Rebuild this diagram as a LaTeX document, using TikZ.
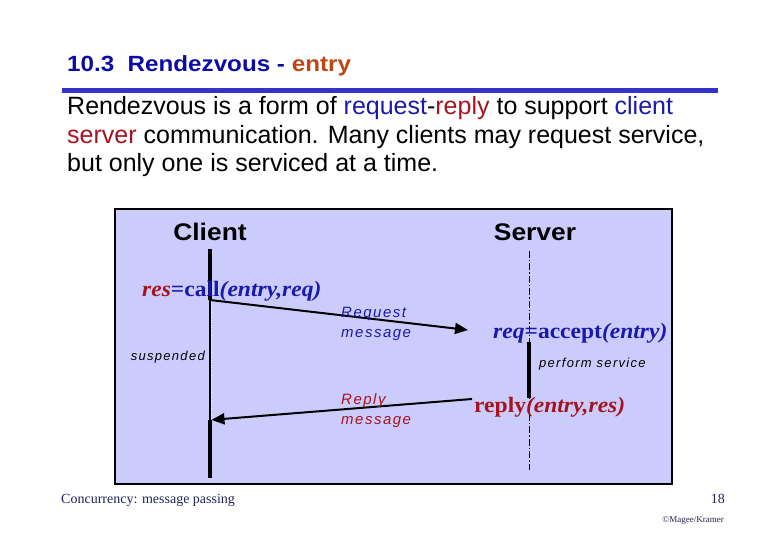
\documentclass[tikz,border=0pt]{standalone}
\usepackage{fontspec}
\setmainfont{Liberation Serif}
\setsansfont{Liberation Sans}
\newfontfamily\headfont[FakeStretch=1.1]{Liberation Sans}
\newfontfamily\callfont[FakeStretch=1.07]{Liberation Serif}
\newfontfamily\notefont[LetterSpace=10]{Liberation Sans}
\usetikzlibrary{arrows.meta,positioning}
\definecolor{titleblue}{RGB}{12,12,165}
\definecolor{entryorange}{RGB}{190,70,20}
\definecolor{textblue}{RGB}{25,25,170}
\definecolor{textred}{RGB}{165,20,30}
\definecolor{boxfill}{RGB}{204,204,252}
\definecolor{ruleblue}{RGB}{51,51,204}
\definecolor{footnavy}{RGB}{35,35,85}
\newcommand*\fsize[1]{\fontsize{#1}{#1}\selectfont}
\newcommand*\activeseg[2]{%
    % #1/#2: start/end of the thick part of a lifeline
    \draw[line width=4.5pt] (#1) -- (#2);
}

\begin{document}
\begin{tikzpicture}[x=1pt,y=-1pt,line cap=butt,
    every node/.style={inner sep=0pt},
    bodyline/.style={anchor=base west,font=\sffamily\fsize{25}},
    callline/.style={anchor=base west,font=\callfont\bfseries\fsize{22}},
    note/.style={font=\notefont\itshape\fsize{13}},
    msglabel/.style={anchor=north west,align=left,font=\notefont\itshape\fontsize{15}{20}\selectfont},
    msg/.style={line width=2pt,-{Triangle[length=13pt,width=11pt]}}]
    \useasboundingbox (0,0) rectangle (780,540);
    % heading
    \node[anchor=base west,font=\headfont\bfseries\fsize{22},text=titleblue] (title) at (67,72) {10.3\ \ Rendezvous - \textcolor{entryorange}{entry}};
    \coordinate (rule-l) at (62,90.5);
    \coordinate (rule-r) at (718,90.5);
    \draw[ruleblue,line width=4.5pt] (rule-l) -- (rule-r);
    \node[bodyline] (line1) at (67,115) {Rendezvous is a form of \textcolor{textblue}{request}-\textcolor{textred}{reply} to support \textcolor{textblue}{client}};
    \node[bodyline] (line2) at (67,143.5) {\textcolor{textred}{server} communication. Many clients may request service,};
    \node[bodyline] (line3) at (67,172) {but only one is serviced at a time.};
    % the diagram
    \draw[fill=boxfill,line width=2pt] (115,209) rectangle (672,484);
    \node[font=\headfont\bfseries\fsize{24}] (client) at (210,232) {Client};
    \node[font=\headfont\bfseries\fsize{24}] (server) at (535,232) {Server};
    \coordinate (c-top) at (210,249);
    \coordinate (c-call) at (210,300);
    \coordinate (c-back) at (210,420);
    \coordinate (c-end) at (210,478);
    \coordinate (s-top) at (529,251);
    \coordinate (s-acc) at (529,342);
    \coordinate (s-rep) at (529,398);
    \coordinate (s-end) at (529,470);
    \coordinate (req-tip) at (468,330);
    \coordinate (rep-start) at (472,399);
    \draw[line width=1pt,dash pattern=on 7pt off 2pt on 1.5pt off 2pt] (s-top) -- (s-end);
    \draw[line width=1.3pt] (c-call) -- (c-back);
    \draw[white,line width=0.5pt,dotted] ([xshift=0.9pt]c-call) -- ([xshift=0.9pt]c-back);
    \activeseg{c-top}{c-call}
    \activeseg{c-back}{c-end}
    \activeseg{s-acc}{s-rep}
    \draw[msg] (c-call) -- (req-tip);
    \draw[msg,shorten >=1.5pt] (rep-start) -- (c-back);
    \node[callline] (call) at (142,297) {\textcolor{textred}{\itshape res}\textcolor{textblue}{=call\itshape(entry,req)}};
    \node[callline] (accept) at (493,338) {\textcolor{textblue}{\itshape req\upshape=accept\itshape(entry)}};
    \node[callline,text=textred] (reply) at (474,413) {reply\itshape(entry,res)};
    \node[msglabel,text=textblue] (request) at (341,307) {Request\\message};
    \node[msglabel,text=textred] (replymsg) at (341,393) {Reply\\message};
    \node[note,anchor=base east] (suspended) at (205,361) {suspended};
    \node[note,anchor=base west] (service) at (539,368) {perform service};
    % footer
    \node[anchor=base west,font=\fsize{14},text=footnavy] (foot) at (61,503) {Concurrency: message passing};
    \node[anchor=base east,font=\fsize{14},text=footnavy] (page) at (725,503) {18};
    \node[anchor=base east,font=\fsize{9},text=footnavy] (copy) at (724,522) {\textcopyright Magee/Kramer};
\end{tikzpicture}
\end{document}
